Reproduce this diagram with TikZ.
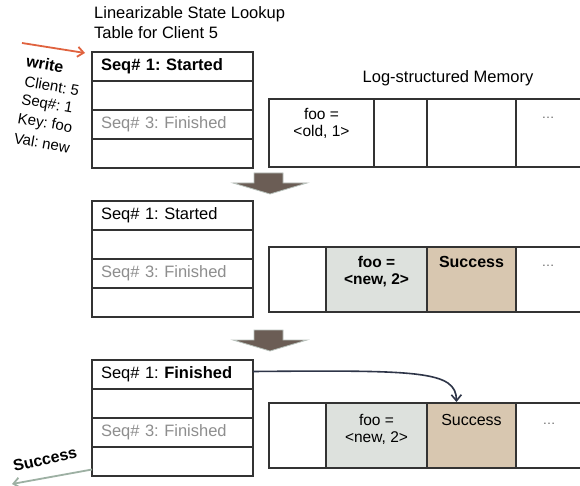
\documentclass[tikz,border=0pt]{standalone}
\usepackage{fontspec}
\setmainfont{Liberation Sans}
\usetikzlibrary{arrows.meta}
\definecolor{cellgray}{HTML}{DDE1DD}
\definecolor{celltan}{HTML}{D8C7B0}
\definecolor{lineclr}{HTML}{333333}
\definecolor{fadetxt}{HTML}{8E8E8E}
\definecolor{arrowbrown}{HTML}{6B5D55}
\definecolor{arrowglow}{HTML}{B9C2BC}
\definecolor{redarrow}{HTML}{E0623E}
\definecolor{greenarrow}{HTML}{9DB0A3}
\definecolor{navyarrow}{HTML}{2E3548}
\definecolor{dotclr}{HTML}{666666}
\frenchspacing
\begin{document}
\begin{tikzpicture}[x=1pt,y=-1pt,
  font=\fontsize{16.5}{20}\selectfont,
  row/.style={draw=lineclr, line width=1.1pt, minimum height=29pt, text width=143pt,
    inner xsep=9pt, inner ysep=0pt, align=left, anchor=north west, outer sep=0pt},
  cell/.style={draw=lineclr, line width=1.1pt, anchor=north west, inner sep=0pt, outer sep=0pt},
  celltxt/.style={anchor=north, align=center, inner sep=0pt, font=\fontsize{15.5}{17.5}\selectfont},
  dots/.style={anchor=center, inner sep=0pt, text=dotclr, font=\fontsize{13}{15}\selectfont},
  lbl/.style={inner sep=0pt, rotate=-10, font=\fontsize{15}{18}\selectfont},
  downarrow/.style={fill=arrowbrown, draw=arrowglow, line width=0.8pt},
  faded/.style={text=fadetxt}
]
\clip (0,0) rectangle (580,486);
\fill[white] (0,0) rectangle (580,486);

% titles
\node[anchor=north west, inner sep=0pt, align=left] (title) at (94,6)
  {Linearizable State Lookup\\Table for Client 5};
\node[inner sep=0pt] (memtitle) at (448,78) {Log-structured Memory};

% ---------- table 1 ----------
\node[row] (t1r1) at (92,52) {\textbf{Seq\# 1: Started}};
\node[row] (t1r2) at (92,81) {};
\node[row, faded] (t1r3) at (92,110) {Seq\# 3: Finished};
\node[row] (t1r4) at (92,139) {};

% ---------- table 2 ----------
\node[row] (t2r1) at (92,201) {Seq\# 1: Started};
\node[row] (t2r2) at (92,230) {};
\node[row, faded] (t2r3) at (92,259) {Seq\# 3: Finished};
\node[row] (t2r4) at (92,288) {};

% ---------- table 3 ----------
\node[row] (t3r1) at (92,360) {Seq\# 1: \textbf{Finished}};
\node[row] (t3r2) at (92,389) {};
\node[row, faded] (t3r3) at (92,418) {Seq\# 3: Finished};
\node[row] (t3r4) at (92,447) {};

% ---------- memory 1 ----------
\node[cell, minimum width=105pt, minimum height=68pt] (m1c1) at (269,99) {};
\node[cell, minimum width=53pt, minimum height=68pt] (m1c2) at (374,99) {};
\node[cell, minimum width=89pt, minimum height=68pt] (m1c3) at (427,99) {};
\node[cell, minimum width=80pt, minimum height=68pt] (m1c4) at (516,99) {};
\node[celltxt] at ([yshift=-9pt]m1c1.north) {foo =\\<old, 1>};
\node[dots] at (548,118) {…};

% ---------- memory 2 ----------
\node[cell, minimum width=57pt, minimum height=65pt] (m2c1) at (269,247) {};
\node[cell, fill=cellgray, minimum width=101pt, minimum height=65pt] (m2c2) at (326,247) {};
\node[cell, fill=celltan, minimum width=89pt, minimum height=65pt] (m2c3) at (427,247) {};
\node[cell, minimum width=80pt, minimum height=65pt] (m2c4) at (516,247) {};
\node[celltxt, font=\bfseries\fontsize{15.5}{17.5}\selectfont] at ([yshift=-9pt]m2c2.north) {foo =\\<new, 2>};
\node[celltxt, font=\bfseries\fontsize{16}{18}\selectfont] at ([yshift=-9pt]m2c3.north) {Success};
\node[dots] at (548,266) {…};

% ---------- memory 3 ----------
\node[cell, minimum width=57pt, minimum height=65pt] (m3c1) at (269,403) {};
\node[cell, fill=cellgray, minimum width=101pt, minimum height=65pt] (m3c2) at (326,403) {};
\node[cell, fill=celltan, minimum width=89pt, minimum height=65pt] (m3c3) at (427,403) {};
\node[cell, minimum width=80pt, minimum height=65pt] (m3c4) at (516,403) {};
\node[celltxt] at ([yshift=-11pt]m3c2.north) {foo =\\<new, 2>};
\node[celltxt, font=\fontsize{16}{18}\selectfont] at ([yshift=-11pt]m3c3.north) {Success};
\node[dots] at (549,424) {…};

% ---------- big down arrows ----------
\foreach \yy in {173,330} {
  \path[downarrow] (254,\yy) -- (283,\yy) -- (283,\yy+10) -- (307,\yy+10)
    -- (270,\yy+21) -- (233,\yy+10) -- (254,\yy+10) -- cycle;
}

% ---------- incoming write request ----------
\coordinate (wstart) at (22,43);
\coordinate (wend) at ([xshift=-7pt,yshift=-1pt]t1r1.north west);
\draw[redarrow, line width=1.8pt, -{Straight Barb[length=6pt,width=10pt]}] (wstart) -- (wend);
\node[lbl, font=\bfseries\fontsize{16}{18}\selectfont] (lwrite) at (45,64) {write};
\node[lbl] (lclient) at (52,86) {Client: 5};
\node[lbl] (lseq) at (47,105) {Seq\#: 1};
\node[lbl] (lkey) at (45,124) {Key: foo};
\node[lbl] (lval) at (42,143) {Val: new};

% ---------- lookup to success entry ----------
\coordinate (succtip) at ([xshift=-15pt,yshift=1pt]m3c3.north);
\draw[navyarrow, line width=1.6pt, -{Straight Barb[length=6pt,width=10pt]}]
  ([yshift=3pt]t3r1.east) .. controls (420,370) and (456,371) .. (succtip);

% ---------- reply ----------
\coordinate (rstart) at ([yshift=-8pt]t3r4.west);
\coordinate (rend) at (12,484);
\draw[greenarrow, line width=1.8pt, -{Straight Barb[length=6pt,width=10pt]}] (rstart) -- (rend);
\node[inner sep=0pt, rotate=13, font=\bfseries\fontsize{16}{18}\selectfont] (lsucc) at (45,459) {Success};
\end{tikzpicture}
\end{document}
